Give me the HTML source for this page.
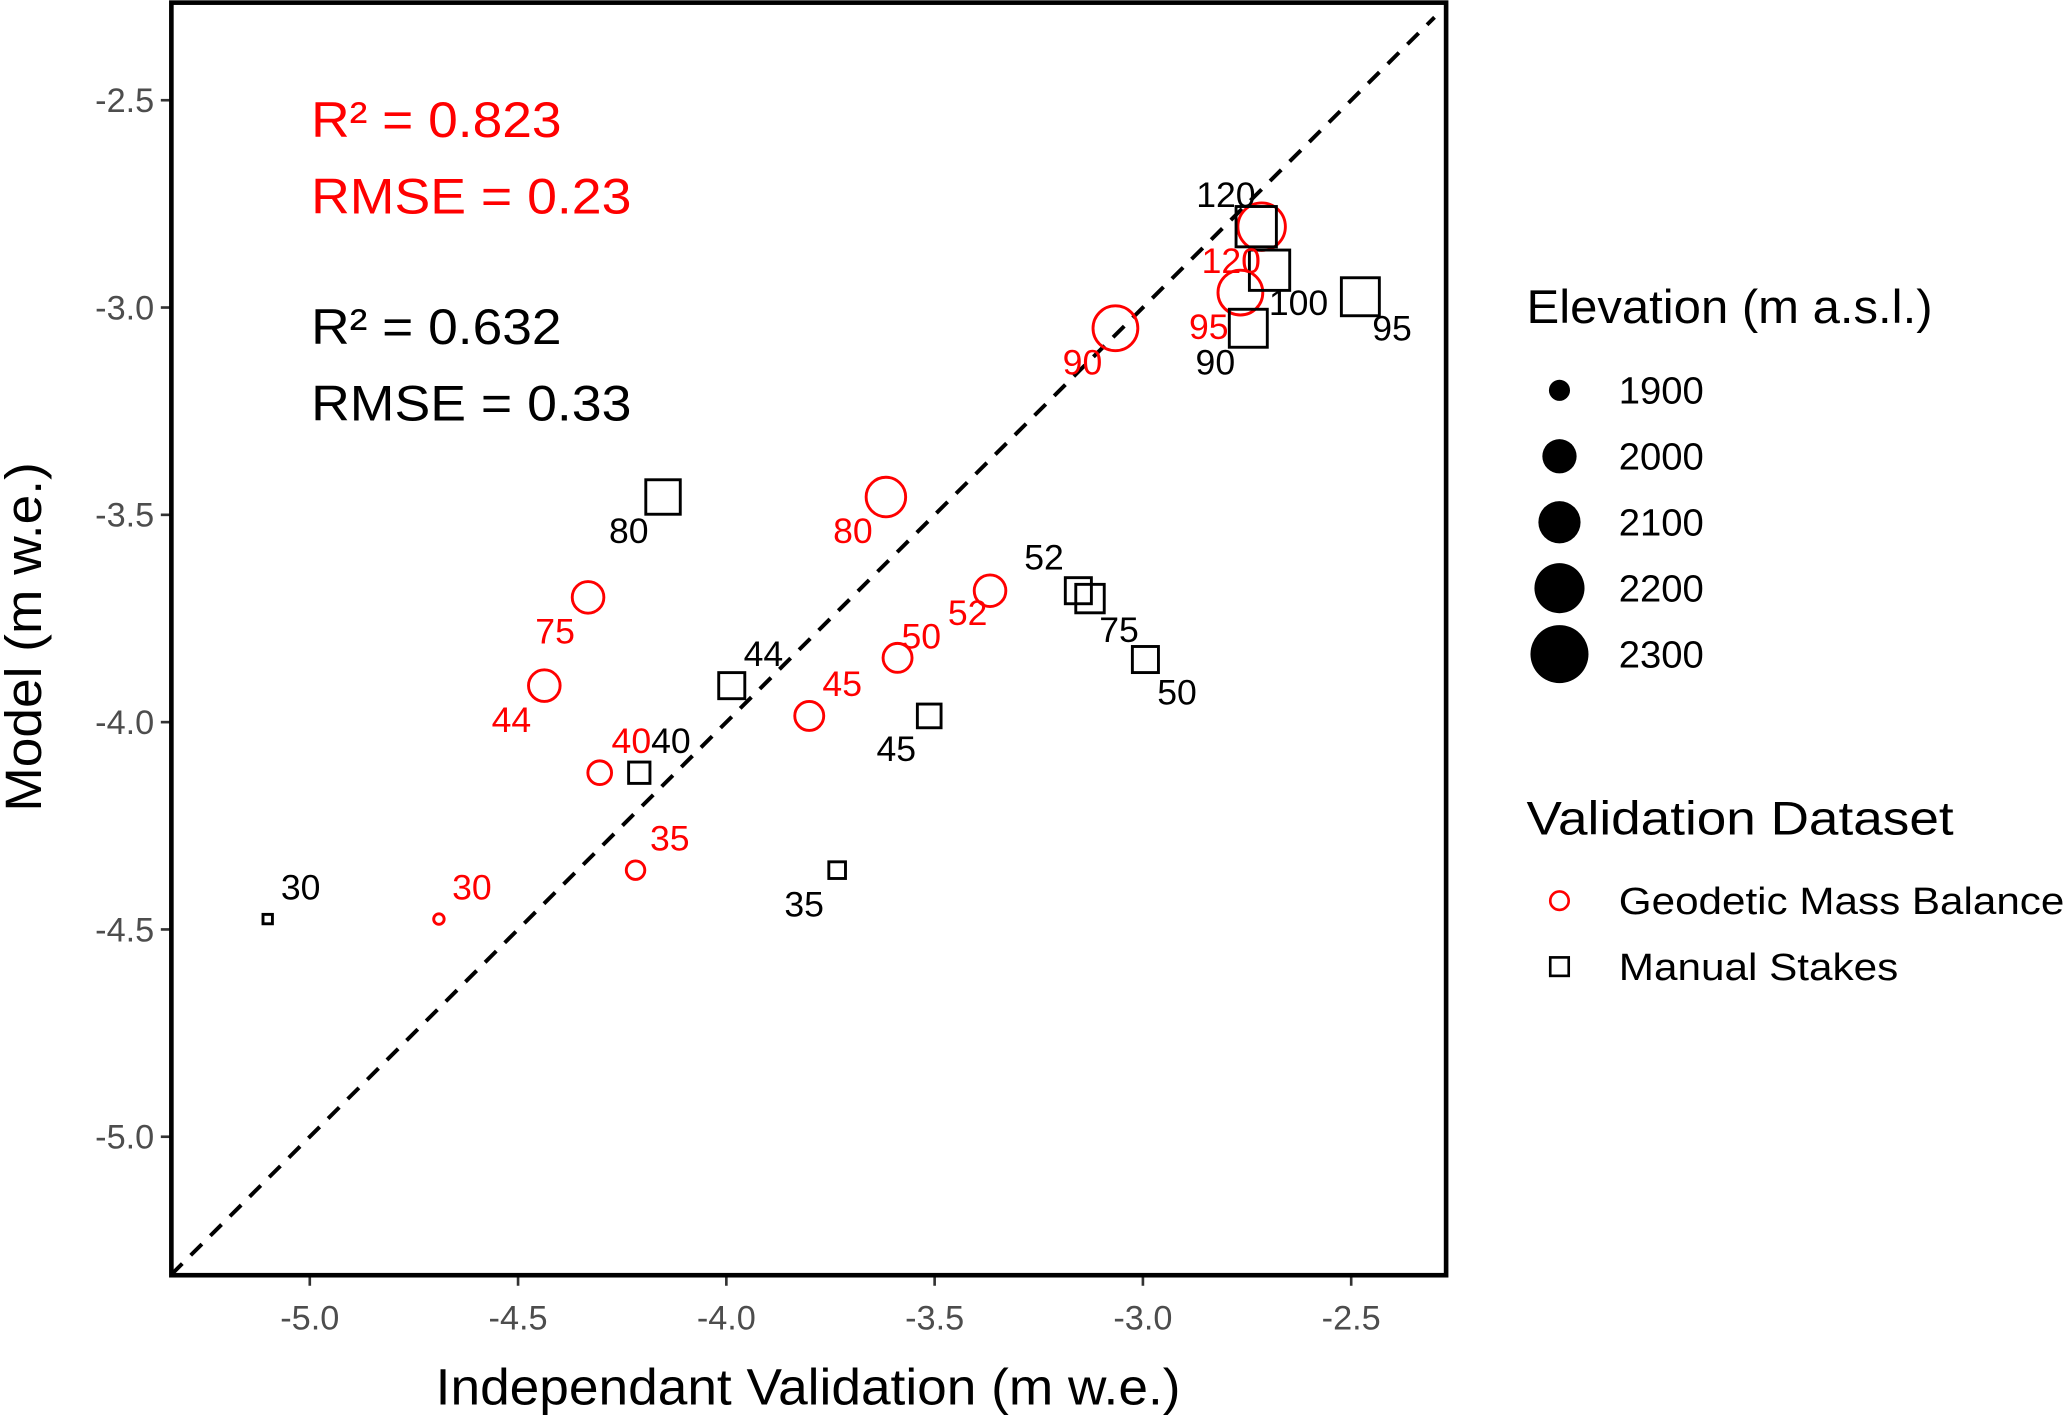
<!DOCTYPE html>
<html><head><meta charset="utf-8"><style>
html,body{margin:0;padding:0;background:#fff;}
svg{display:block;font-family:"Liberation Sans",Arial,sans-serif;}
</style></head><body>
<svg id="chart" width="2067" height="1415" viewBox="0 0 1568 1073" preserveAspectRatio="none" xmlns="http://www.w3.org/2000/svg">
<g id="plot"></g>
<g>
<text x="1158" y="245" font-size="36" textLength="308" lengthAdjust="spacingAndGlyphs" fill="#000">Elevation (m a.s.l.)</text>
<g id="sizeleg"></g>
<text x="1158" y="633" font-size="36" textLength="324" lengthAdjust="spacingAndGlyphs" fill="#000">Validation Dataset</text>
<circle cx="1183" cy="683" r="7" fill="none" stroke="#f00" stroke-width="2"/>
<text x="1228" y="693" font-size="29" textLength="338" lengthAdjust="spacingAndGlyphs">Geodetic Mass Balance</text>
<rect x="1176" y="726" width="14" height="14" fill="none" stroke="#000" stroke-width="2"/>
<text x="1228" y="743" font-size="29" textLength="212" lengthAdjust="spacingAndGlyphs">Manual Stakes</text>
</g>
</svg>
<script>
const redSites=["30","35","40","44","75","80","45","50","52","90","95","120"];
const redObs=[-4.69,-4.218,-4.304,-4.437,-4.332,-3.617,-3.801,-3.589,-3.367,-3.066,-2.766,-2.715];
const redMod=[-4.475,-4.357,-4.122,-3.912,-3.699,-3.457,-3.985,-3.845,-3.683,-3.05,-2.964,-2.805];
const redElev=[1854,1886,1916,1976,1976,2053,1954,1954,1976,2114,2114,2148];
const blkSites=["30","35","40","44","45","80","52","75","50","90","95","100","120"];
const blkObs=[-5.101,-3.734,-4.209,-3.987,-3.513,-4.152,-3.155,-3.127,-2.994,-2.747,-2.478,-2.696,-2.728];
const blkMod=[-4.475,-4.357,-4.122,-3.912,-3.985,-3.457,-3.683,-3.702,-3.849,-3.05,-2.974,-2.91,-2.805];
const blkElev=[1854,1886,1916,1954,1934,2040,1954,1976,1954,2083,2083,2114,2114];
const xTicks=[-5.0,-4.5,-4.0,-3.5,-3.0,-2.5];
const yTicks=[-2.5,-3.0,-3.5,-4.0,-4.5,-5.0];
const legElev=[1900,2000,2100,2200,2300];
const redOff=[[25,-24],[26,-24],[24,-24],[-25,26],[-25,26],[-25,26],[25,-24],[18,-16],[-17,17],[-25,26],[-24,26],[-23,26]];
const blkOff=[[25,-24],[-25,26],[24,-24],[24,-24],[-25,25],[-26,26],[-26,-25],[22,24],[24,25],[-25,26],[24,24],[22,25],[-23,-24]];

const L=130,R=1097,T=2,B=967;
const X=v=>235+(v+5)*316;
const Y=v=>76-(v+2.5)*314.4;
const rad=e=>Math.sqrt(Math.max(9,64+1.05*(e-1900)));
const NS="http://www.w3.org/2000/svg";
const plot=document.getElementById('plot');
function mk(tag,attrs,parent){const el=document.createElementNS(NS,tag);for(const k in attrs)el.setAttribute(k,attrs[k]);(parent||plot).appendChild(el);return el;}

let cp=mk('clipPath',{id:'cp'});mk('rect',{x:L,y:T,width:R-L,height:B-T},cp);
let d=mk('line',{x1:X(-5.333),y1:Y(-5.333),x2:X(-2.3),y2:Y(-2.3),stroke:'#000','stroke-width':3,'stroke-dasharray':'12,9','clip-path':'url(#cp)'});



xTicks.forEach(t=>{
 let l=mk('line',{x1:X(t),x2:X(t),y1:B,y2:B+8,stroke:'#333','stroke-width':2});
 
 
 let tx=mk('text',{x:X(t),y:B+41,'font-size':26,fill:'#4d4d4d','text-anchor':'middle'});
 tx.textContent=t.toFixed(1);
 
 
});
yTicks.forEach(t=>{
 let l=mk('line',{x1:L-8,x2:L,y1:Y(t),y2:Y(t),stroke:'#333','stroke-width':2});
 
 
 let tx=mk('text',{x:L-13,y:Y(t)+9,'font-size':26,fill:'#4d4d4d','text-anchor':'end'});
 tx.textContent=t.toFixed(1);
 
 
});

redObs.forEach((v,i)=>{
 let c=mk('circle',{cx:X(v),cy:Y(redMod[i]),r:rad(redElev[i]),fill:'none',stroke:'#f00','stroke-width':2.2});
 
 
});
blkObs.forEach((v,i)=>{
 const h=rad(blkElev[i])*0.9;
 let r=mk('rect',{x:X(v)-h,y:Y(blkMod[i])-h,width:2*h,height:2*h,fill:'none',stroke:'#000','stroke-width':2.2});
 
 
});
redObs.forEach((v,i)=>{
 let t=mk('text',{x:X(v)+redOff[i][0],y:Y(redMod[i])+redOff[i][1]+9,'font-size':27,fill:'#f00','text-anchor':'middle'});
 t.textContent=redSites[i];
 
 
});
blkObs.forEach((v,i)=>{
 let t=mk('text',{x:X(v)+blkOff[i][0],y:Y(blkMod[i])+blkOff[i][1]+9,'font-size':27,fill:'#000','text-anchor':'middle'});
 t.textContent=blkSites[i];
 
 
});

let fr=mk('rect',{x:L,y:T,width:R-L,height:B-T,fill:'none',stroke:'#000','stroke-width':3.5});



const ann=[["R² = 0.823",104,'#f00',190],["RMSE = 0.23",162,'#f00',243],["R² = 0.632",261,'#000',190],["RMSE = 0.33",319,'#000',243]];
ann.forEach(a=>{
 let t=mk('text',{x:236,y:a[1],'font-size':38,fill:a[2],textLength:a[3],lengthAdjust:'spacingAndGlyphs'});
 t.textContent=a[0];
 
 
});
let xt=mk('text',{x:613,y:1065,'font-size':39,'text-anchor':'middle',textLength:565,lengthAdjust:'spacingAndGlyphs'});
xt.textContent='Independant Validation (m w.e.)';


let yt=mk('text',{x:0,y:0,'font-size':39,'text-anchor':'middle',textLength:265,lengthAdjust:'spacingAndGlyphs',transform:'translate(31,483) rotate(-90)'});
yt.textContent='Model (m w.e.)';



const sl=document.getElementById('sizeleg');
legElev.forEach((e,i)=>{
 const cy=296+i*50;
 let c=mk('circle',{cx:1183,cy:cy,r:[8,13,16,19,22][i],fill:'#000'},sl);
 
 
 let t=mk('text',{x:1228,y:cy+10,'font-size':29},sl);
 t.textContent=e;
 
 
});
</script>
</body></html>
